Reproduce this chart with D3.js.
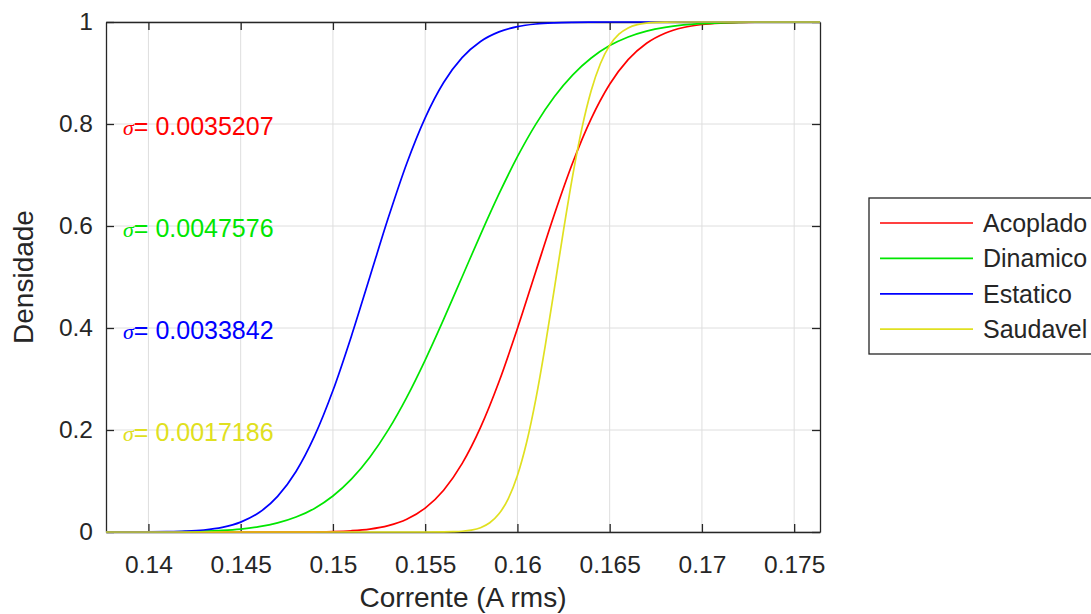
<!DOCTYPE html>
<html>
<head>
<meta charset="utf-8">
<script src="https://cdn.jsdelivr.net/npm/d3@7"></script>
<style>
  html, body { margin: 0; padding: 0; background: #fff; }
  svg { display: block; font-family: "Liberation Sans", Arial, sans-serif; }
</style>
</head>
<body>
<svg id="chart" width="1091" height="614"></svg>
<script>
// Cumulative curves of current (A rms) for each operating condition
const seriesNames = ["Acoplado", "Dinamico", "Estatico", "Saudavel"];
const seriesColors = ["#ff0000", "#00e600", "#0000ff", "#e0e020"];
const sigmaLabels = ["0.0035207", "0.0047576", "0.0033842", "0.0017186"];
const sigmaLabelY = [0.8, 0.6, 0.4, 0.2];

const xTicks = [0.14, 0.145, 0.15, 0.155, 0.16, 0.165, 0.17, 0.175];
const xTickLabels = ["0.14", "0.145", "0.15", "0.155", "0.16", "0.165", "0.17", "0.175"];
const yTicks = [0, 0.2, 0.4, 0.6, 0.8, 1];
const yTickLabels = ["0", "0.2", "0.4", "0.6", "0.8", "1"];

// Acoplado
const acopladoX = [0.1377, 0.148, 0.149, 0.150, 0.151, 0.152, 0.153, 0.154, 0.155, 0.156, 0.157, 0.158, 0.159, 0.160, 0.161, 0.162, 0.163, 0.164, 0.165, 0.166, 0.167, 0.168, 0.169, 0.170, 0.171, 0.172, 0.173, 0.174, 0.1764];
const acopladoY = [0, 0.0001, 0.0004, 0.0010, 0.0025, 0.0057, 0.0124, 0.0250, 0.0469, 0.0820, 0.1340, 0.2051, 0.2946, 0.3990, 0.5113, 0.6226, 0.7245, 0.8106, 0.8780, 0.9263, 0.9584, 0.9781, 0.9893, 0.9951, 0.9979, 0.9992, 0.9997, 0.9999, 1];

// Dinamico
const dinamicoX = [0.1377, 0.140, 0.141, 0.142, 0.143, 0.144, 0.145, 0.146, 0.147, 0.148, 0.149, 0.150, 0.151, 0.152, 0.153, 0.154, 0.155, 0.156, 0.157, 0.158, 0.159, 0.160, 0.161, 0.162, 0.163, 0.164, 0.165, 0.166, 0.167, 0.168, 0.169, 0.170, 0.171, 0.172, 0.173, 0.174, 0.1764];
const dinamicoY = [0, 0.0002, 0.0004, 0.0008, 0.0016, 0.0031, 0.0058, 0.0104, 0.0178, 0.0293, 0.0463, 0.0706, 0.1036, 0.1466, 0.2002, 0.2641, 0.3372, 0.4168, 0.5, 0.5832, 0.6628, 0.7359, 0.7998, 0.8534, 0.8964, 0.9294, 0.9537, 0.9707, 0.9822, 0.9896, 0.9942, 0.9969, 0.9984, 0.9992, 0.9996, 0.9998, 1];

// Estatico
const estaticoX = [0.1377, 0.140, 0.141, 0.142, 0.143, 0.144, 0.145, 0.146, 0.147, 0.148, 0.149, 0.150, 0.151, 0.152, 0.153, 0.154, 0.155, 0.156, 0.157, 0.158, 0.159, 0.160, 0.161, 0.162, 0.163, 0.164, 0.165, 0.1764];
const estaticoY = [0, 0.0002, 0.0006, 0.0016, 0.0039, 0.0090, 0.0193, 0.0381, 0.0698, 0.1186, 0.1878, 0.2773, 0.3840, 0.5, 0.6160, 0.7227, 0.8122, 0.8814, 0.9302, 0.9619, 0.9807, 0.9910, 0.9961, 0.9984, 0.9994, 0.9998, 1, 1];

// Saudavel
const saudavelX = [0.1377, 0.155, 0.156, 0.1565, 0.157, 0.1575, 0.158, 0.1585, 0.159, 0.1595, 0.160, 0.1605, 0.161, 0.1615, 0.162, 0.1625, 0.163, 0.1635, 0.164, 0.1645, 0.165, 0.1655, 0.166, 0.1665, 0.167, 0.1675, 0.168, 0.169, 0.1764];
const saudavelY = [0, 0, 0.0002, 0.0006, 0.0015, 0.0037, 0.0085, 0.0181, 0.0356, 0.0651, 0.1109, 0.1759, 0.2611, 0.3635, 0.4769, 0.5920, 0.6998, 0.7924, 0.8656, 0.9187, 0.9542, 0.9761, 0.9884, 0.9948, 0.9978, 0.9992, 0.9997, 1, 1];

const seriesX = [acopladoX, dinamicoX, estaticoX, saudavelX];
const seriesY = [acopladoY, dinamicoY, estaticoY, saudavelY];

const plot = { left: 106, right: 820, top: 22, bottom: 532 };
const axisColor = "#262626";
const gridColor = "#dedede";

const svg = d3.select("#chart");

const x = d3.scaleLinear().domain([0.1377, 0.1764]).range([plot.left, plot.right]);
const y = d3.scaleLinear().domain([0, 1]).range([plot.bottom, plot.top]);

// background of axes
svg.append("rect")
  .attr("x", plot.left).attr("y", plot.top)
  .attr("width", plot.right - plot.left).attr("height", plot.bottom - plot.top)
  .attr("fill", "#fff");

// grid
const grid = svg.append("g");
grid.selectAll("line.gx").data(xTicks).join("line")
  .attr("x1", d => x(d)).attr("x2", d => x(d))
  .attr("y1", plot.top).attr("y2", plot.bottom)
  .attr("stroke", gridColor).attr("stroke-width", 1);
grid.selectAll("line.gy").data(yTicks).join("line")
  .attr("x1", plot.left).attr("x2", plot.right)
  .attr("y1", d => y(d)).attr("y2", d => y(d))
  .attr("stroke", gridColor).attr("stroke-width", 1);

const tickFont = 24.5;

// bottom axis
const xAxis = d3.axisBottom(x).tickValues(xTicks)
  .tickFormat((d, i) => xTickLabels[i])
  .tickSizeInner(-8).tickSizeOuter(0).tickPadding(23.5);
const gx = svg.append("g").attr("transform", `translate(0,${plot.bottom})`).call(xAxis);

// top axis (ticks only)
const gxt = svg.append("g").attr("transform", `translate(0,${plot.top})`)
  .call(d3.axisTop(x).tickValues(xTicks).tickFormat("").tickSizeInner(-8).tickSizeOuter(0));

// left axis
const yAxis = d3.axisLeft(y).tickValues(yTicks)
  .tickFormat((d, i) => yTickLabels[i])
  .tickSizeInner(-8).tickSizeOuter(0).tickPadding(13);
const gy = svg.append("g").attr("transform", `translate(${plot.left},0)`).call(yAxis);

// right axis (ticks only)
const gyr = svg.append("g").attr("transform", `translate(${plot.right},0)`)
  .call(d3.axisRight(y).tickValues(yTicks).tickFormat("").tickSizeInner(-8).tickSizeOuter(0));

[gx, gxt, gy, gyr].forEach(g => {
  g.select(".domain").attr("stroke", axisColor).attr("stroke-width", 1.3);
  g.selectAll(".tick line").attr("stroke", axisColor).attr("stroke-width", 1.3);
  g.selectAll(".tick text").attr("fill", axisColor)
    .style("font-size", tickFont + "px")
    .style("font-family", "'Liberation Sans', Arial, sans-serif");
});

// curves
const line = d3.line().x(d => x(d[0])).y(d => y(d[1])).curve(d3.curveMonotoneX);
seriesNames.forEach((name, i) => {
  const pts = seriesX[i].map((v, j) => [v, seriesY[i][j]]);
  svg.append("path")
    .datum(pts)
    .attr("d", line)
    .attr("fill", "none")
    .attr("stroke", seriesColors[i])
    .attr("stroke-width", 1.7)
    .attr("stroke-linejoin", "round");
});

// sigma annotations
seriesNames.forEach((name, i) => {
  const t = svg.append("text")
    .attr("x", 123)
    .attr("y", y(sigmaLabelY[i]) + 11)
    .attr("fill", seriesColors[i])
    .style("font-size", "25px");
  t.append("tspan").text("σ")
    .style("font-style", "italic")
    .style("font-family", "'Liberation Serif', 'Times New Roman', serif")
    .style("font-size", "22px");
  t.append("tspan").text("= " + sigmaLabels[i]);
});

// axis labels
svg.append("text")
  .attr("x", (plot.left + plot.right) / 2)
  .attr("y", 607)
  .attr("text-anchor", "middle")
  .attr("fill", axisColor)
  .style("font-size", "28px")
  .text("Corrente (A rms)");

svg.append("text")
  .attr("transform", `translate(33,${(plot.top + plot.bottom) / 2}) rotate(-90)`)
  .attr("text-anchor", "middle")
  .attr("fill", axisColor)
  .style("font-size", "28px")
  .text("Densidade");

// legend
const legend = svg.append("g");
const legTop = 198, legLeft = 869, rowH = 35.4, firstRow = 223;
legend.append("rect")
  .attr("x", legLeft).attr("y", legTop)
  .attr("width", 260).attr("height", 354 - legTop)
  .attr("fill", "#fff").attr("stroke", axisColor).attr("stroke-width", 1.3);
seriesNames.forEach((name, i) => {
  const ry = firstRow + i * rowH;
  legend.append("line")
    .attr("x1", 880).attr("x2", 973)
    .attr("y1", ry).attr("y2", ry)
    .attr("stroke", seriesColors[i]).attr("stroke-width", 1.7);
  legend.append("text")
    .attr("x", 983).attr("y", ry + 9)
    .attr("fill", axisColor)
    .style("font-size", "25px")
    .text(name);
});
</script>
</body>
</html>
